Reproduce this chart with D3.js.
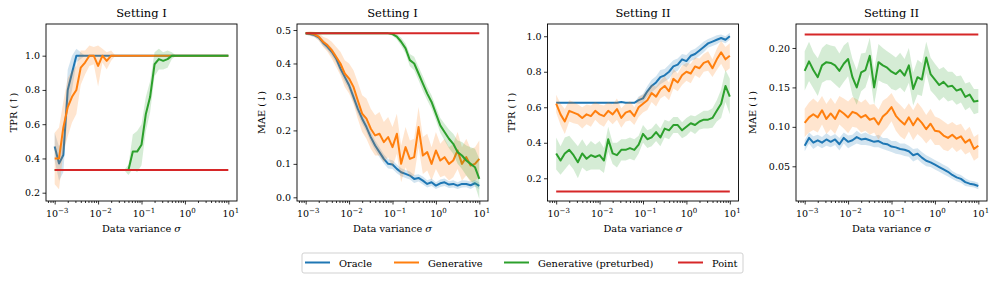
<!DOCTYPE html>
<html>
<head>
<meta charset="utf-8">
<script src="https://cdn.jsdelivr.net/npm/d3@7"></script>
<style>
  body { margin: 0; background: #fff; }
  text { font-family: "DejaVu Serif", "Liberation Serif", serif; fill: #000; }
</style>
</head>
<body>
<div id="chart"></div>
<script>
// data variance grid (x values, shared by all panels)
var sigma = [0.001,0.00126,0.00158,0.002,0.00251,0.00316,0.00398,0.00501,0.00631,0.00794,
  0.01,0.0126,0.0158,0.02,0.0251,0.0316,0.0398,0.0501,0.0631,0.0794,
  0.1,0.126,0.158,0.2,0.251,0.316,0.398,0.501,0.631,0.794,
  1,1.26,1.58,2,2.51,3.16,3.98,5.01,6.31,7.94,10];

var methods = ["Oracle", "Generative", "Generative (preturbed)", "Point"];
var titles = ["Setting I", "Setting I", "Setting II", "Setting II"];
var yLabels = ["TPR (\u2191)", "MAE (\u2193)", "TPR (\u2191)", "MAE (\u2193)"];
var xTickLabels = [[1e-3,"-3"],[1e-2,"-2"],[1e-1,"-1"],[1,"0"],[10,"1"]];
var yTicks1 = [0.2,0.4,0.6,0.8,1.0];
var yTicks2 = [0.0,0.1,0.2,0.3,0.4,0.5];
var yTicks3 = [0.2,0.4,0.6,0.8,1.0];
var yTicks4 = [0.05,0.10,0.15,0.20];

// Setting I, TPR
var tpr1Oracle = [0.47,0.37,0.42,0.80,0.90,1.00,1.00,1.00,1.00,1.00,
  1.00,1.00,1.00,1.00,1.00,1.00,1.00,1.00,1.00,1.00,
  1.00,1.00,1.00,1.00,1.00,1.00,1.00,1.00,1.00,1.00,
  1.00,1.00,1.00,1.00,1.00,1.00,1.00,1.00,1.00,1.00,1.00];
var tpr1OracleSd = [0.08,0.10,0.10,0.12,0.10,0.04,0.02,0,0,0,
  0,0,0,0,0,0,0,0,0,0, 0,0,0,0,0,0,0,0,0,0, 0,0,0,0,0,0,0,0,0,0,0];
var tpr1Gen = [0.40,0.40,0.58,0.70,0.76,0.80,0.93,0.96,1.00,1.00,
  0.94,1.00,0.97,1.00,1.00,1.00,1.00,1.00,1.00,1.00,
  1.00,1.00,1.00,1.00,1.00,1.00,1.00,1.00,1.00,1.00,
  1.00,1.00,1.00,1.00,1.00,1.00,1.00,1.00,1.00,1.00,1.00];
var tpr1GenSd = [0.15,0.18,0.15,0.17,0.15,0.14,0.10,0.07,0.06,0.05,
  0.12,0.04,0.05,0.03,0,0,0,0,0,0, 0,0,0,0,0,0,0,0,0,0, 0,0,0,0,0,0,0,0,0,0,0];
var tpr1Pert = [0.333,0.333,0.333,0.333,0.333,0.333,0.333,0.333,0.333,0.333,
  0.333,0.333,0.333,0.333,0.333,0.333,0.333,0.333,0.44,0.44,
  0.48,0.66,0.76,0.95,0.98,0.97,0.98,1.00,1.00,1.00,
  1.00,1.00,1.00,1.00,1.00,1.00,1.00,1.00,1.00,1.00,1.00];
var tpr1PertSd = [0,0,0,0,0,0,0,0,0,0, 0,0,0,0,0,0,0,0.03,0.10,0.12,
  0.12,0.10,0.09,0.07,0.06,0.05,0.05,0.02,0,0, 0,0,0,0,0,0,0,0,0,0,0];
var tpr1Point = 0.333;

// Setting I, MAE
var mae1Oracle = [0.490,0.488,0.485,0.478,0.462,0.450,0.435,0.415,0.385,0.360,
  0.335,0.300,0.265,0.235,0.210,0.180,0.155,0.135,0.115,0.100,
  0.098,0.085,0.075,0.070,0.065,0.055,0.058,0.050,0.040,0.045,
  0.035,0.042,0.045,0.038,0.040,0.035,0.040,0.040,0.036,0.042,0.034];
var mae1OracleSd = [0.004,0.005,0.006,0.008,0.010,0.010,0.012,0.012,0.014,0.015,
  0.015,0.016,0.016,0.016,0.015,0.016,0.015,0.015,0.014,0.014,
  0.013,0.013,0.012,0.012,0.012,0.012,0.011,0.012,0.011,0.011,
  0.010,0.011,0.011,0.010,0.011,0.010,0.011,0.010,0.011,0.010,0.010];
var mae1Gen = [0.490,0.490,0.487,0.480,0.465,0.455,0.440,0.420,0.400,0.370,
  0.355,0.330,0.290,0.250,0.235,0.205,0.185,0.190,0.165,0.180,
  0.150,0.190,0.100,0.150,0.115,0.120,0.210,0.125,0.135,0.100,
  0.140,0.110,0.120,0.100,0.110,0.140,0.100,0.120,0.095,0.100,0.115];
var mae1GenSd = [0.004,0.006,0.008,0.012,0.015,0.020,0.025,0.030,0.035,0.040,
  0.045,0.050,0.055,0.055,0.060,0.060,0.060,0.065,0.060,0.060,
  0.060,0.060,0.055,0.060,0.055,0.055,0.060,0.055,0.055,0.050,
  0.055,0.050,0.055,0.050,0.050,0.055,0.050,0.055,0.050,0.050,0.055];
var mae1Pert = [0.490,0.490,0.490,0.490,0.490,0.490,0.490,0.490,0.490,0.490,
  0.490,0.490,0.490,0.490,0.490,0.490,0.490,0.490,0.490,0.490,
  0.488,0.480,0.465,0.445,0.410,0.400,0.370,0.340,0.310,0.285,
  0.250,0.215,0.195,0.175,0.160,0.135,0.125,0.110,0.100,0.090,0.055];
var mae1PertSd = [0.003,0.003,0.003,0.003,0.003,0.003,0.003,0.003,0.003,0.003,
  0.003,0.003,0.003,0.003,0.003,0.003,0.003,0.003,0.003,0.003,
  0.005,0.008,0.012,0.015,0.018,0.020,0.020,0.022,0.020,0.020,
  0.020,0.022,0.025,0.028,0.030,0.035,0.040,0.045,0.050,0.055,0.060];
var mae1Point = 0.49;

// Setting II, TPR
var tpr2Oracle = [0.625,0.625,0.625,0.625,0.625,0.625,0.625,0.625,0.625,0.625,
  0.625,0.625,0.625,0.625,0.625,0.63,0.625,0.625,0.625,0.64,
  0.65,0.69,0.72,0.74,0.77,0.78,0.80,0.83,0.84,0.87,
  0.86,0.89,0.90,0.92,0.94,0.96,0.97,0.98,0.99,0.98,1.00];
var tpr2OracleSd = [0,0,0,0,0,0,0,0,0,0, 0,0,0,0,0,0,0,0,0,0.02,
  0.025,0.03,0.035,0.035,0.04,0.035,0.04,0.035,0.035,0.03,
  0.035,0.03,0.03,0.03,0.03,0.025,0.025,0.025,0.02,0.02,0.02];
var tpr2Gen = [0.62,0.56,0.52,0.58,0.57,0.56,0.54,0.56,0.55,0.58,
  0.56,0.55,0.58,0.56,0.59,0.54,0.57,0.58,0.55,0.60,
  0.62,0.64,0.68,0.66,0.70,0.72,0.69,0.76,0.74,0.78,
  0.80,0.79,0.83,0.82,0.85,0.86,0.82,0.87,0.91,0.87,0.89];
var tpr2GenSd = [0.05,0.06,0.07,0.06,0.06,0.055,0.06,0.055,0.06,0.05,
  0.055,0.06,0.05,0.055,0.06,0.055,0.05,0.055,0.05,0.055,
  0.05,0.055,0.05,0.055,0.05,0.055,0.05,0.055,0.05,0.055,
  0.05,0.055,0.05,0.055,0.05,0.055,0.05,0.06,0.065,0.07,0.07];
var tpr2Pert = [0.34,0.30,0.34,0.36,0.33,0.29,0.34,0.31,0.33,0.32,
  0.33,0.30,0.42,0.34,0.33,0.36,0.36,0.37,0.36,0.39,
  0.45,0.42,0.43,0.46,0.43,0.48,0.47,0.50,0.50,0.47,
  0.49,0.51,0.50,0.52,0.53,0.53,0.54,0.58,0.62,0.72,0.66];
var tpr2PertSd = [0.09,0.08,0.09,0.08,0.08,0.09,0.08,0.07,0.08,0.07,
  0.08,0.07,0.07,0.06,0.07,0.06,0.06,0.06,0.06,0.05,
  0.05,0.05,0.05,0.05,0.05,0.05,0.05,0.045,0.045,0.045,
  0.05,0.045,0.05,0.045,0.05,0.05,0.055,0.06,0.08,0.09,0.10];
var tpr2Point = 0.125;

// Setting II, MAE
var mae2Oracle = [0.076,0.086,0.080,0.083,0.080,0.084,0.081,0.084,0.078,0.086,
  0.081,0.083,0.087,0.084,0.085,0.083,0.081,0.082,0.079,0.078,
  0.075,0.074,0.072,0.071,0.069,0.064,0.066,0.061,0.057,0.055,
  0.052,0.049,0.046,0.043,0.039,0.036,0.034,0.030,0.028,0.027,0.025];
var mae2OracleSd = [0.007,0.007,0.008,0.007,0.007,0.008,0.007,0.007,0.008,0.007,
  0.008,0.007,0.008,0.007,0.008,0.007,0.007,0.008,0.007,0.008,
  0.007,0.008,0.007,0.008,0.007,0.008,0.007,0.007,0.007,0.006,
  0.006,0.006,0.006,0.006,0.005,0.005,0.005,0.005,0.004,0.004,0.004];
var mae2Gen = [0.105,0.112,0.116,0.112,0.121,0.110,0.117,0.110,0.121,0.117,
  0.112,0.119,0.117,0.112,0.115,0.109,0.111,0.103,0.113,0.118,
  0.125,0.114,0.108,0.103,0.112,0.102,0.111,0.105,0.097,0.104,
  0.095,0.094,0.089,0.086,0.090,0.085,0.088,0.080,0.084,0.072,0.076];
var mae2GenSd = [0.018,0.019,0.020,0.019,0.018,0.019,0.020,0.019,0.018,0.019,
  0.020,0.019,0.018,0.019,0.020,0.019,0.018,0.019,0.020,0.019,
  0.018,0.019,0.020,0.019,0.018,0.019,0.020,0.019,0.018,0.019,
  0.018,0.017,0.018,0.017,0.016,0.017,0.016,0.015,0.016,0.015,0.015];
var mae2Pert = [0.171,0.183,0.172,0.163,0.178,0.182,0.181,0.178,0.171,0.180,
  0.186,0.163,0.150,0.169,0.172,0.190,0.150,0.182,0.178,0.175,
  0.170,0.167,0.172,0.165,0.178,0.148,0.163,0.160,0.188,0.167,
  0.160,0.153,0.157,0.151,0.152,0.146,0.148,0.138,0.141,0.132,0.133];
var mae2PertSd = [0.025,0.025,0.023,0.024,0.022,0.023,0.022,0.024,0.022,0.023,
  0.022,0.023,0.022,0.024,0.022,0.023,0.022,0.023,0.022,0.021,
  0.022,0.021,0.022,0.021,0.022,0.021,0.022,0.021,0.020,0.021,
  0.020,0.020,0.019,0.019,0.018,0.018,0.017,0.017,0.016,0.016,0.015];
var mae2Point = 0.217;

var colors = ["#1f77b4", "#ff7f0e", "#2ca02c", "#d62728"];

var panels = [
  {title: titles[0], ylabel: yLabels[0], yDomain: [0.1515, 1.185], ticks: yTicks1, fmt: ".1f",
   series: [[tpr1Oracle, tpr1OracleSd], [tpr1Gen, tpr1GenSd], [tpr1Pert, tpr1PertSd]], point: tpr1Point},
  {title: titles[1], ylabel: yLabels[1], yDomain: [-0.011, 0.518], ticks: yTicks2, fmt: ".1f",
   series: [[mae1Oracle, mae1OracleSd], [mae1Gen, mae1GenSd], [mae1Pert, mae1PertSd]], point: mae1Point},
  {title: titles[2], ylabel: yLabels[2], yDomain: [0.072, 1.069], ticks: yTicks3, fmt: ".1f",
   series: [[tpr2Oracle, tpr2OracleSd], [tpr2Gen, tpr2GenSd], [tpr2Pert, tpr2PertSd]], point: tpr2Point},
  {title: titles[3], ylabel: yLabels[3], yDomain: [0.006, 0.2304], ticks: yTicks4, fmt: ".2f",
   series: [[mae2Oracle, mae2OracleSd], [mae2Gen, mae2GenSd], [mae2Pert, mae2PertSd]], point: mae2Point}
];

//layout
var w = 996, h = 282;
var panelLeft = [46, 297, 547.5, 796];
var pw = 191, plotTop = 24, plotBottom = 201;
var yLabelOffset = [29, 32, 32.5, 40];
var xDomain = [Math.pow(10, -3.2), Math.pow(10, 1.2)];

var svg = d3.select("#chart").append("svg")
  .attr("width", w).attr("height", h);

var minorTicks = [];
for (var e = -4; e <= 1; e++) {
  for (var m = 2; m <= 9; m++) {
    var v = m * Math.pow(10, e);
    if (v > xDomain[0] && v < xDomain[1]) minorTicks.push(v);
  }
}

panels.forEach(function(p, i) {
  var left = panelLeft[i];
  var x = d3.scaleLog().domain(xDomain).range([left, left + pw]);
  var y = d3.scaleLinear().domain(p.yDomain).range([plotBottom, plotTop]);
  var g = svg.append("g");

  p.series.forEach(function(s, k) {
    var mean = s[0], sd = s[1];
    var area = d3.area()
      .x(function(d, j) { return x(sigma[j]); })
      .y0(function(d, j) { return y(mean[j] - sd[j]); })
      .y1(function(d, j) { return y(mean[j] + sd[j]); });
    g.append("path").datum(mean)
      .attr("d", area)
      .attr("fill", colors[k])
      .attr("fill-opacity", 0.2);
    var line = d3.line()
      .x(function(d, j) { return x(sigma[j]); })
      .y(function(d) { return y(d); });
    g.append("path").datum(mean)
      .attr("d", line)
      .attr("fill", "none")
      .attr("stroke", colors[k])
      .attr("stroke-width", 2)
      .attr("stroke-linejoin", "round");
  });

  // point estimate
  g.append("path").datum([sigma[0], sigma[sigma.length - 1]])
    .attr("d", d3.line().x(function(d) { return x(d); }).y(function() { return y(p.point); }))
    .attr("fill", "none")
    .attr("stroke", colors[3])
    .attr("stroke-width", 2);

  // axes
  var xAxis = g.append("g").attr("transform", "translate(0," + plotBottom + ")")
    .call(d3.axisBottom(x).tickValues(xTickLabels.map(function(d) { return d[0]; }))
      .tickSize(3.5).tickFormat(""));
  g.append("g").attr("transform", "translate(0," + plotBottom + ")")
    .call(d3.axisBottom(x).tickValues(minorTicks).tickSize(2).tickFormat(""))
    .call(function(a) { a.select(".domain").remove(); });
  xAxis.select(".domain").remove();

  xTickLabels.forEach(function(t) {
    var tx = g.append("text")
      .attr("x", x(t[0]) + 2.5)
      .attr("y", 217)
      .attr("text-anchor", "middle")
      .attr("font-size", "9.5px");
    tx.append("tspan").text("10");
    tx.append("tspan").attr("dy", -4.5).attr("font-size", "7px")
      .text(t[1].replace("-", "\u2212"));
  });

  var yAxis = g.append("g").attr("transform", "translate(" + left + ",0)")
    .call(d3.axisLeft(y).tickValues(p.ticks).tickFormat(d3.format(p.fmt))
      .tickSize(3.5).tickPadding(2.5));
  yAxis.select(".domain").remove();
  yAxis.selectAll("text")
    .attr("font-size", "9.5px")
    .attr("font-family", "DejaVu Serif, serif");
  g.selectAll(".tick line").attr("stroke", "#000").attr("stroke-width", 0.8);

  g.append("rect")
    .attr("x", left).attr("y", plotTop)
    .attr("width", pw).attr("height", plotBottom - plotTop)
    .attr("fill", "none").attr("stroke", "#000").attr("stroke-width", 0.9);

  g.append("text")
    .attr("x", left + pw / 2).attr("y", 17)
    .attr("text-anchor", "middle")
    .attr("font-size", "11.5px")
    .text(p.title);

  var xl = g.append("text")
    .attr("x", left + pw / 2).attr("y", 232)
    .attr("text-anchor", "middle")
    .attr("font-size", "9.8px");
  xl.append("tspan").text("Data variance ");
  xl.append("tspan").attr("font-style", "italic").text("\u03c3");

  g.append("text")
    .attr("transform", "translate(" + (left - yLabelOffset[i]) + "," + ((plotTop + plotBottom) / 2) + ") rotate(-90)")
    .attr("text-anchor", "middle")
    .attr("font-size", "9.8px")
    .text(p.ylabel);
});

// legend
var legX = [305, 394, 504, 678];
var leg = svg.append("g");
leg.append("rect")
  .attr("x", 302).attr("y", 253).attr("width", 441).attr("height", 20)
  .attr("rx", 2).attr("fill", "#fff").attr("stroke", "#cccccc").attr("stroke-width", 0.9);
methods.forEach(function(name, i) {
  leg.append("line")
    .attr("x1", legX[i]).attr("x2", legX[i] + 25)
    .attr("y1", 262.5).attr("y2", 262.5)
    .attr("stroke", colors[i]).attr("stroke-width", 2);
  leg.append("text")
    .attr("x", legX[i] + 34).attr("y", 266.5)
    .attr("font-size", "9.8px")
    .text(name);
});
</script>
</body>
</html>
